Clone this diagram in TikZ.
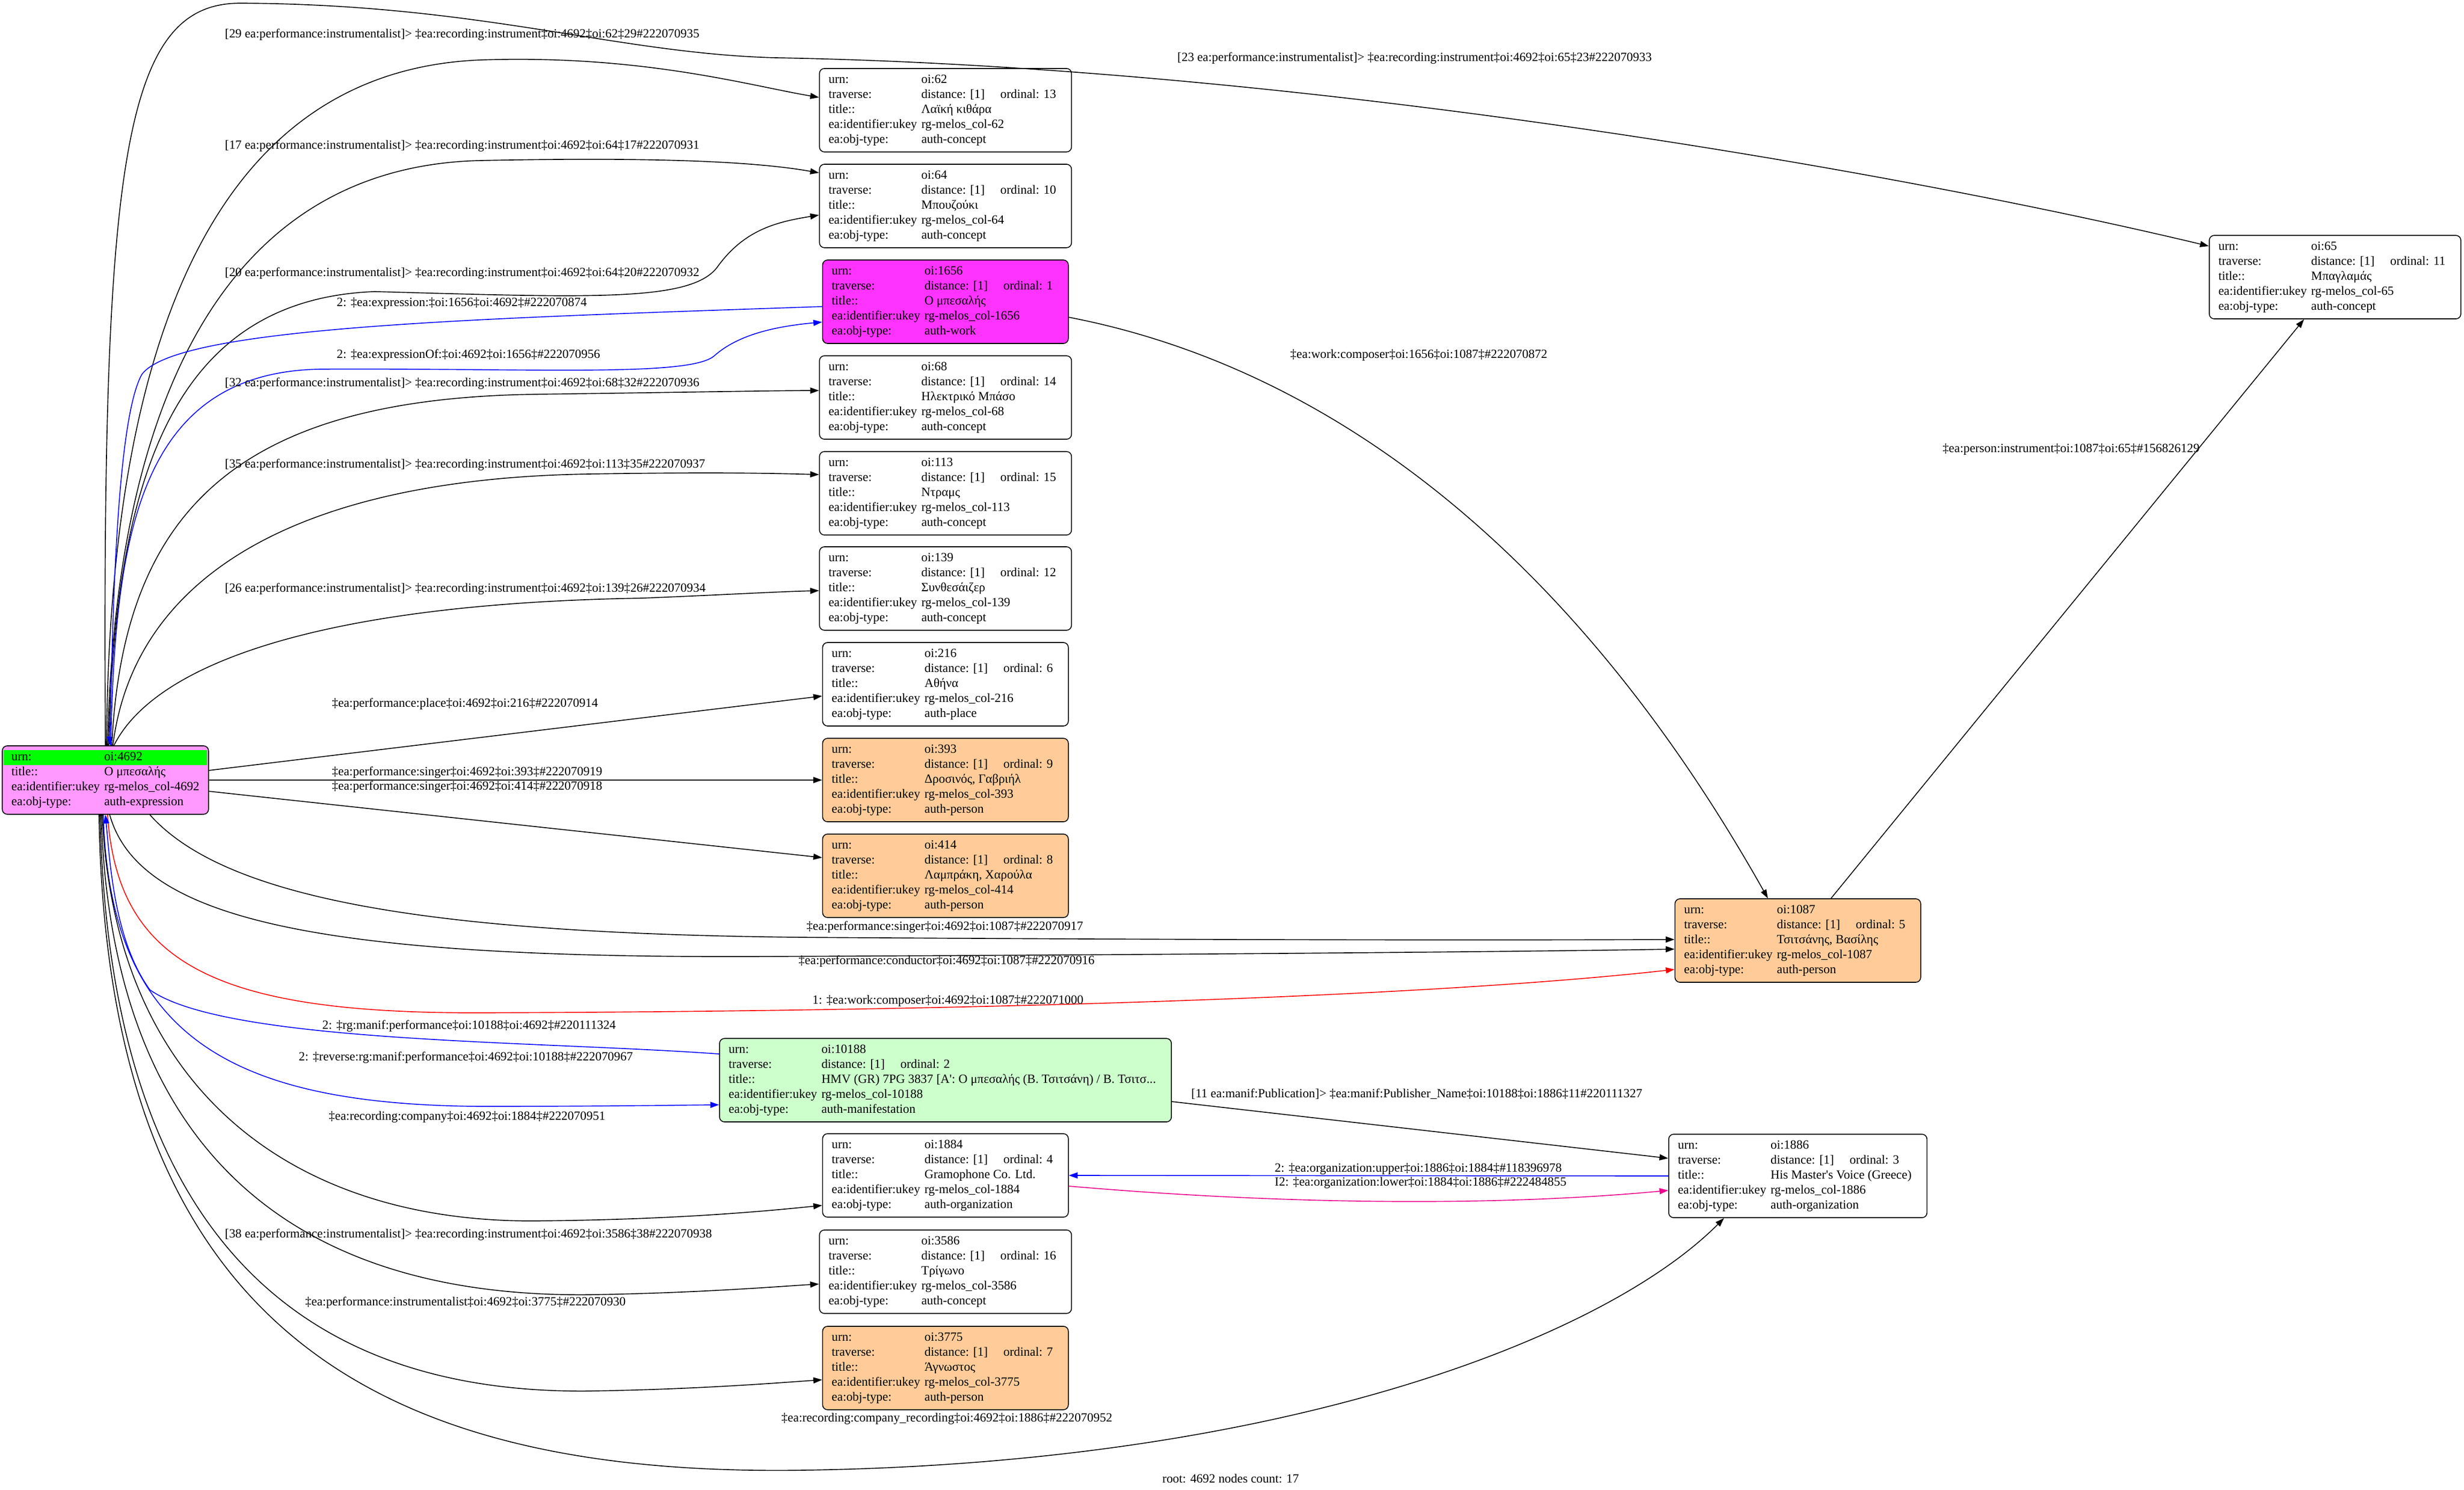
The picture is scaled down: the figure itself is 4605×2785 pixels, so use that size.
\PassOptionsToPackage{table}{xcolor}
\documentclass[tikz,border=0pt]{standalone}
\usepackage{fontspec}
\setmainfont{Liberation Serif}
\usetikzlibrary{calc,arrows.meta}
\definecolor{rootfill}{RGB}{255,153,255}
\definecolor{workfill}{RGB}{255,51,255}
\definecolor{personfill}{RGB}{255,204,153}
\definecolor{maniffill}{RGB}{204,255,204}
\definecolor{urngreen}{RGB}{0,255,0}
% one record: urn, ordinal, title, ukey, type
\newcommand\recbody[5]{\begin{tabular}{@{}l@{}l@{\hspace{5pt}}}\makebox[74pt][l]{urn:}&#1\\traverse:&\makebox[63pt][l]{distance: [1]}ordinal: #2\\title::&#3\\ea:identifier:ukey&#4\\ea:obj-type:&#5\end{tabular}}

\begin{document}
\begin{tikzpicture}[x=0.015cm,y=-0.015cm,
	rec/.style={draw=black,line width=0.7pt,rounded corners=4pt,inner xsep=7.3pt,inner ysep=3.3pt,fill=white},
	lab/.style={anchor=west,inner sep=0pt},
	link/.style={line width=0.7pt,-{Triangle[length=7pt,width=4.8pt]}}]
			%%%%% NODES %%%%%
			\useasboundingbox (0,0) rectangle (4605,2785);
			
			\node[rec,fill=rootfill] (root) at (197,1458) {\begin{tabular}{@{}l@{}l@{}}\rowcolor{urngreen}\makebox[74pt][l]{urn:}&oi:4692\\title::&Ο μπεσαλής\\ea:identifier:ukey&rg-melos\_col-4692\\ea:obj-type:&auth-expression\end{tabular}};
			
			\node[rec] (n62) at (1767,206) {\recbody{oi:62}{13}{Λαϊκή κιθάρα}{rg-melos\_col-62}{auth-concept}};
			\node[rec] (n64) at (1767,385) {\recbody{oi:64}{10}{Μπουζούκι}{rg-melos\_col-64}{auth-concept}};
			\node[rec,fill=workfill] (n1656) at (1767,564) {\recbody{oi:1656}{1}{Ο μπεσαλής}{rg-melos\_col-1656}{auth-work}};
			\node[rec] (n68) at (1767,743) {\recbody{oi:68}{14}{Ηλεκτρικό Μπάσο}{rg-melos\_col-68}{auth-concept}};
			\node[rec] (n113) at (1767,922) {\recbody{oi:113}{15}{Ντραμς}{rg-melos\_col-113}{auth-concept}};
			\node[rec] (n139) at (1767,1100) {\recbody{oi:139}{12}{Συνθεσάιζερ}{rg-melos\_col-139}{auth-concept}};
			\node[rec] (n216) at (1767,1279) {\recbody{oi:216}{6}{Αθήνα}{rg-melos\_col-216}{auth-place}};
			\node[rec,fill=personfill] (n393) at (1767,1458) {\recbody{oi:393}{9}{Δροσινός, Γαβριήλ}{rg-melos\_col-393}{auth-person}};
			\node[rec,fill=personfill] (n414) at (1767,1637) {\recbody{oi:414}{8}{Λαμπράκη, Χαρούλα}{rg-melos\_col-414}{auth-person}};
			\node[rec,fill=maniffill] (n10188) at (1767,2019) {\recbody{oi:10188}{2}{HMV (GR) 7PG 3837 [Α\textquotesingle: Ο μπεσαλής (Β. Τσιτσάνη) / Β. Τσιτσ...}{rg-melos\_col-10188}{auth-manifestation}};
			\node[rec] (n1884) at (1767,2197) {\recbody{oi:1884}{4}{Gramophone Co. Ltd.}{rg-melos\_col-1884}{auth-organization}};
			\node[rec] (n3586) at (1767,2377) {\recbody{oi:3586}{16}{Τρίγωνο}{rg-melos\_col-3586}{auth-concept}};
			\node[rec,fill=personfill] (n3775) at (1767,2557) {\recbody{oi:3775}{7}{Άγνωστος}{rg-melos\_col-3775}{auth-person}};
			
			\node[rec,fill=personfill] (n1087) at (3360,1758) {\recbody{oi:1087}{5}{Τσιτσάνης, Βασίλης}{rg-melos\_col-1087}{auth-person}};
			\node[rec] (n1886) at (3360,2198) {\recbody{oi:1886}{3}{His Master\textquotesingle s Voice (Greece)}{rg-melos\_col-1886}{auth-organization}};
			\node[rec] (n65) at (4364,518) {\recbody{oi:65}{11}{Μπαγλαμάς}{rg-melos\_col-65}{auth-concept}};
			
			%%%%% EDGES UP %%%%%
			\draw[link] (root.north) .. controls (190,300) and (230,5) .. (450,6) .. controls (900,8) and (1150,100) .. (1450,108) .. controls (2400,125) and (3500,310) .. ($(n65.west)+(0,-58)$);
			\node[lab] (l65) at (2200,109) {[23 ea:performance:instrumentalist]> ‡ea:recording:instrument‡oi:4692‡oi:65‡23\#222070933};
			
			\draw[link] ($(root.north)+(2,0)$) .. controls (205,600) and (420,130) .. (900,112) .. controls (1200,102) and (1400,160) .. ($(n62.west)+(0,-24)$);
			\node[lab] (l62) at (420,65) {[29 ea:performance:instrumentalist]> ‡ea:recording:instrument‡oi:4692‡oi:62‡29\#222070935};
			
			\draw[link] ($(root.north)+(4,0)$) .. controls (215,750) and (420,310) .. (900,300) .. controls (1200,294) and (1400,300) .. ($(n64.west)+(0,-62)$);
			\node[lab] (l64a) at (420,273) {[17 ea:performance:instrumentalist]> ‡ea:recording:instrument‡oi:4692‡oi:64‡17\#222070931};
			
			\draw[link] ($(root.north)+(6,0)$) .. controls (215,900) and (320,560) .. (700,545) .. controls (1100,556) and (1290,565) .. (1340,500) .. controls (1390,430) and (1450,415) .. ($(n64.west)+(0,17)$);
			\node[lab] (l64b) at (420,511) {[20 ea:performance:instrumentalist]> ‡ea:recording:instrument‡oi:4692‡oi:64‡20\#222070932};
			
			\draw[link,blue] ($(n1656.west)+(0,9)$) .. controls (900,595) and (330,610) .. (265,700) .. controls (215,790) and (210,1200) .. ($(root.north)+(8,0)$);
			\node[lab] (l1656a) at (629,567) {2: ‡ea:expression:‡oi:1656‡oi:4692‡\#222070874};
			
			\draw[link,blue] ($(root.north)+(10,0)$) .. controls (215,1000) and (260,695) .. (600,690) .. controls (1000,688) and (1290,705) .. (1335,665) .. controls (1380,625) and (1450,610) .. ($(n1656.west)+(0,38)$);
			\node[lab] (l1656b) at (629,664) {2: ‡ea:expressionOf:‡oi:4692‡oi:1656‡\#222070956};
			
			\draw[link] ($(root.north)+(12,0)$) .. controls (230,950) and (450,745) .. (1000,737) .. controls (1300,733) and (1450,730) .. ($(n68.west)+(0,-13)$);
			\node[lab] (l68) at (420,717) {[32 ea:performance:instrumentalist]> ‡ea:recording:instrument‡oi:4692‡oi:68‡32\#222070936};
			
			\draw[link] ($(root.north)+(14,0)$) .. controls (250,1080) and (550,895) .. (1100,886) .. controls (1350,882) and (1450,885) .. ($(n113.west)+(0,-35)$);
			\node[lab] (l113) at (420,869) {[35 ea:performance:instrumentalist]> ‡ea:recording:instrument‡oi:4692‡oi:113‡35\#222070937};
			
			\draw[link] ($(root.north)+(16,0)$) .. controls (290,1240) and (600,1128) .. (1200,1118) .. controls (1350,1112) and (1450,1106) .. ($(n139.west)+(0,4)$);
			\node[lab] (l139) at (420,1101) {[26 ea:performance:instrumentalist]> ‡ea:recording:instrument‡oi:4692‡oi:139‡26\#222070934};
			
			%%%%% EDGES RIGHT %%%%%
			\draw[link] ($(root.east)+(0,-18)$) -- ($(n216.west)+(0,22)$);
			\node[lab] (l216) at (620,1316) {‡ea:performance:place‡oi:4692‡oi:216‡\#222070914};
			\draw[link] (root.east) -- (n393.west);
			\node[lab] (l393) at (620,1444) {‡ea:performance:singer‡oi:4692‡oi:393‡\#222070919};
			\draw[link] ($(root.east)+(0,21)$) -- ($(n414.west)+(0,-34)$);
			\node[lab] (l414) at (620,1471) {‡ea:performance:singer‡oi:4692‡oi:414‡\#222070918};
			
			%%%%% EDGES DOWN %%%%%
			\draw[link] ($(root.south)+(83,0)$) .. controls (420,1680) and (800,1745) .. (1500,1752) .. controls (2400,1758) and (2900,1757) .. ($(n1087.west)+(0,-2)$);
			\node[lab] (l1087s) at (1507,1733) {‡ea:performance:singer‡oi:4692‡oi:1087‡\#222070917};
			
			\draw[link] ($(root.south)+(8,0)$) .. controls (260,1720) and (600,1790) .. (1400,1788) .. controls (2300,1784) and (2900,1778) .. ($(n1087.west)+(0,16)$);
			\node[lab] (l1087c) at (1492,1797) {‡ea:performance:conductor‡oi:4692‡oi:1087‡\#222070916};
			
			\draw[link,red] ($(root.south)+(4,0)$) .. controls (220,1800) and (400,1895) .. (900,1893) .. controls (1900,1890) and (2700,1860) .. ($(n1087.west)+(0,54)$);
			\node[lab] (l1087r) at (1518,1871) {1: ‡ea:work:composer‡oi:4692‡oi:1087‡\#222071000};
			
			\draw[link,blue] ($(n10188.west)+(0,-49)$) .. controls (1000,1945) and (420,1950) .. (280,1850) .. controls (215,1760) and (206,1620) .. (root.south);
			\node[lab] (l10188a) at (602,1918) {2: ‡rg:manif:performance‡oi:10188‡oi:4692‡\#220111324};
			
			\draw[link,blue] ($(root.south)+(-4,0)$) .. controls (205,1930) and (420,2065) .. (900,2068) .. controls (1100,2068) and (1250,2066) .. ($(n10188.west)+(0,46)$);
			\node[lab] (l10188b) at (558,1977) {2: ‡reverse:rg:manif:performance‡oi:4692‡oi:10188‡\#222070967};
			
			\draw[link] ($(root.south)+(-6,0)$) .. controls (215,2050) and (560,2285) .. (1000,2282) .. controls (1250,2280) and (1420,2265) .. ($(n1884.west)+(0,56)$);
			\node[lab] (l1884) at (614,2088) {‡ea:recording:company‡oi:4692‡oi:1884‡\#222070951};
			
			\draw[link] ($(root.south)+(-8,0)$) .. controls (210,2200) and (600,2425) .. (1100,2420) .. controls (1300,2417) and (1450,2405) .. ($(n3586.west)+(0,23)$);
			\node[lab] (l3586) at (420,2308) {[38 ea:performance:instrumentalist]> ‡ea:recording:instrument‡oi:4692‡oi:3586‡38\#222070938};
			
			\draw[link] ($(root.south)+(-10,0)$) .. controls (205,2350) and (600,2605) .. (1100,2600) .. controls (1300,2597) and (1450,2585) .. ($(n3775.west)+(0,22)$);
			\node[lab] (l3775) at (570,2435) {‡ea:performance:instrumentalist‡oi:4692‡oi:3775‡\#222070930};
			
			\draw[link] ($(root.south)+(-12,0)$) .. controls (200,2480) and (700,2760) .. (1500,2748) .. controls (2400,2735) and (3000,2500) .. ($(n1886.south)+(-138,0)$);
			\node[lab] (l1886r) at (1460,2652) {‡ea:recording:company\_recording‡oi:4692‡oi:1886‡\#222070952};
			
			%%%%% OTHER EDGES %%%%%
			\draw[link] ($(n1656.east)+(0,29)$) .. controls (2500,690) and (2950,1050) .. ($(n1087.north)+(-56,0)$);
			\node[lab] (l1656to1087) at (2411,664) {‡ea:work:composer‡oi:1656‡oi:1087‡\#222070872};
			
			\draw[link] ($(n1087.north)+(62,0)$) -- ($(n65.south)+(-58,0)$);
			\node[lab] (l1087to65) at (3630,840) {‡ea:person:instrument‡oi:1087‡oi:65‡\#156826129};
			
			\draw[link] ($(n10188.east)+(0,40)$) -- ($(n1886.west)+(0,-33)$);
			\node[lab] (l10188to1886) at (2226,2045) {[11 ea:manif:Publication]> ‡ea:manif:Publisher\_Name‡oi:10188‡oi:1886‡11\#220111327};
			
			\draw[link,blue] (n1886.west) -- (n1884.east);
			\node[lab] (l1886up) at (2382,2185) {2: ‡ea:organization:upper‡oi:1886‡oi:1884‡\#118396978};
			\draw[link,magenta] ($(n1884.east)+(0,20)$) .. controls (2400,2252) and (2800,2255) .. ($(n1886.west)+(0,27)$);
			\node[lab] (l1884low) at (2382,2211) {I2: ‡ea:organization:lower‡oi:1884‡oi:1886‡\#222484855};
			
			\node (foot) at (2300,2764) {root: 4692 nodes count: 17};
\end{tikzpicture}
\end{document}
